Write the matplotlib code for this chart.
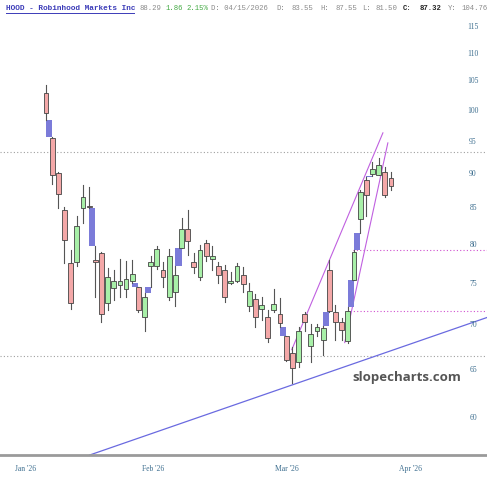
import numpy as np
import matplotlib
matplotlib.use("Agg")
import matplotlib.pyplot as plt
from matplotlib.patches import Rectangle
from matplotlib.lines import Line2D
import matplotlib.transforms as mtransforms

# ---- data (daily candles, HOOD, Jan-Apr 2026) ----
opens  = [103.0, 95.6, 90.1, 84.8, 77.6, 77.7, 85.0, 85.4, 78.0, 78.9,
          72.6, 74.5, 74.9, 74.4, 75.3, 74.6, 71.0, 77.2, 77.2, 76.7,
          73.4, 74.0, 79.6, 82.1, 77.8, 75.8, 80.3, 78.1, 77.3, 76.7,
          75.1, 75.3, 76.1, 72.3, 73.1, 71.9, 70.9, 71.8, 71.3, 68.7,
          66.8, 65.8, 71.3, 67.6, 69.3, 68.3, 76.7, 71.6, 70.4, 68.2,
          75.5, 83.5, 89.2, 90.0, 89.8, 90.3, 89.4]
highs  = [104.4, 95.8, 90.3, 85.2, 79.3, 84.0, 88.4, 88.1, 79.8, 79.0,
          77.0, 76.7, 78.1, 77.9, 78.0, 74.6, 73.9, 78.6, 79.8, 77.7,
          79.4, 77.3, 83.7, 84.8, 78.9, 80.0, 80.7, 79.9, 77.7, 77.4,
          76.5, 77.6, 77.1, 75.1, 73.7, 73.4, 71.8, 74.3, 73.2, 68.8,
          67.5, 69.8, 71.6, 70.1, 70.1, 69.9, 78.0, 72.4, 70.8, 72.1,
          79.3, 87.7, 89.5, 91.8, 92.5, 91.0, 90.3]
lows   = [98.5, 88.6, 85.1, 77.6, 71.9, 77.2, 83.0, 85.0, 73.3, 70.4,
          71.8, 73.0, 73.4, 73.4, 75.1, 71.5, 69.3, 74.6, 76.8, 74.6,
          73.0, 72.3, 79.6, 78.7, 76.4, 75.5, 77.9, 76.7, 75.1, 72.8,
          75.0, 75.2, 74.0, 71.7, 69.8, 70.6, 68.1, 71.6, 69.8, 65.9,
          63.6, 65.3, 69.3, 65.8, 68.8, 66.6, 71.5, 68.3, 68.3, 68.0,
          75.5, 81.6, 83.9, 89.7, 89.8, 86.6, 87.6]
closes = [99.7, 89.8, 87.1, 80.7, 72.6, 82.6, 86.7, 85.2, 77.8, 71.3,
          75.8, 75.4, 75.4, 75.6, 76.2, 71.8, 73.4, 77.8, 79.4, 75.8,
          78.5, 76.1, 82.1, 80.5, 77.1, 79.3, 78.6, 78.6, 76.1, 73.4,
          75.3, 77.2, 75.0, 74.1, 70.9, 72.4, 68.5, 72.5, 70.3, 66.1,
          65.2, 69.3, 70.4, 69.0, 69.8, 69.7, 71.7, 70.4, 69.4, 71.7,
          79.0, 87.4, 87.0, 90.8, 91.4, 86.9, 88.3]

month_labels = ["Jan '26", "Feb '26", "Mar '26", "Apr '26"]
month_pos = [-3.4, 17.4, 39.1, 59.1]
ytick_vals = [60, 65, 70, 75, 80, 85, 90, 95, 100, 105, 110, 115]

# trendlines (bar index, price)
support_line = [(7.1, 56.4), (71.6, 70.9)]
channel_upper = [(39.9, 67.2), (54.7, 96.4)]
channel_lower = [(48.5, 68.0), (55.5, 94.8)]
grey_levels = [93.4, 66.5]
magenta_levels = [(79.3, 49.8), (71.7, 49.4)]

# header pieces: (x pixel, text, kind)
header_title = 'HOOD - Robinhood Markets Inc'
header_parts = [(139, '88.29', 'n'), (165, '1.86', 'g'), (186, '2.15%', 'g'),
                (211, 'D: 04/15/2026', 'n'), (276, 'D:', 'n'), (292, '83.55', 'n'),
                (320, 'H:', 'n'), (335, '87.55', 'n'), (362, 'L:', 'n'),
                (376, '81.50', 'n'), (403, 'C:', 'b'), (420, '87.32', 'b'),
                (448, 'Y:', 'n'), (461, '104.76', 'n')]

# ---- figure ----
W, H = 487, 480
fig = plt.figure(figsize=(W / 100, H / 100), dpi=100)
ax_top, ax_bot = 18, 455
ax = fig.add_axes([0, 1 - ax_bot / H, 1, (ax_bot - ax_top) / H])
ax.set_yscale('log')
xmin, xmax = -7.47, 71.6
ax.set_xlim(xmin, xmax)
ax.set_ylim(56.4, 116.7)
for s in ['top', 'left', 'right']:
    ax.spines[s].set_visible(False)
ax.spines['bottom'].set_color('#9a9a9a')
ax.spines['bottom'].set_linewidth(2)
ax.set_yticks([])
ax.yaxis.set_minor_locator(matplotlib.ticker.NullLocator())

ax.set_xticks(month_pos)
ax.set_xticklabels(month_labels)
ax.tick_params(axis='x', length=0, pad=7, labelsize=5.5, labelcolor='#3d6e8f')
for lbl in ax.get_xticklabels():
    lbl.set_fontfamily('Liberation Serif')

trans = mtransforms.blended_transform_factory(ax.transAxes, ax.transData)
for v in ytick_vals:
    ax.text(473 / W, v, str(v), transform=trans, ha='center', va='center',
            fontsize=5.5, family='Liberation Serif', color='#3d6e8f')

# horizontal levels
for lv in grey_levels:
    ax.plot([xmin, xmax], [lv, lv], ls=(0, (1, 2)), color='#a0a0a0', lw=0.8, zorder=1)
for lv, x0 in magenta_levels:
    ax.plot([x0, xmax], [lv, lv], ls=(0, (1, 2)), color='#d050d0', lw=0.8, zorder=1)

# trendlines
def extend(p0, p1, x0, x1):
    (xa, ya), (xb, yb) = p0, p1
    la, lb = np.log(ya), np.log(yb)
    k = (lb - la) / (xb - xa)
    return [x0, x1], [np.exp(la + k * (x0 - xa)), np.exp(la + k * (x1 - xa))]

xs, ys = extend(*support_line, support_line[0][0], xmax)
ax.plot(xs, ys, color='#6a6ae0', lw=0.9, zorder=2)
xs, ys = extend(*channel_upper, channel_upper[0][0], channel_upper[1][0])
ax.plot(xs, ys, color='#c060e0', lw=0.8, zorder=2)
xs, ys = extend(*channel_lower, channel_lower[0][0], channel_lower[1][0])
ax.plot(xs, ys, color='#c060e0', lw=0.8, zorder=2)

# gaps
n = len(opens)
for i in range(1, n):
    if highs[i] < lows[i - 1]:
        ax.add_patch(Rectangle((i - 1, highs[i]), 1, lows[i - 1] - highs[i],
                               facecolor='#7b7bd9', edgecolor='none', zorder=3))
    elif lows[i] > highs[i - 1]:
        ax.add_patch(Rectangle((i - 1, highs[i - 1]), 1, lows[i] - highs[i - 1],
                               facecolor='#7b7bd9', edgecolor='none', zorder=3))

# candles
bw = 0.78
for i in range(n):
    o, h, l, c = opens[i], highs[i], lows[i], closes[i]
    col = '#a8f0a8' if c >= o else '#f4a8a8'
    ax.plot([i, i], [l, h], color='#555555', lw=0.8, zorder=4)
    lo, hi = min(o, c), max(o, c)
    ax.add_patch(Rectangle((i - bw / 2, lo), bw, hi - lo, facecolor=col,
                           edgecolor='#444444', lw=0.6, zorder=5))

# watermark
fig.text(352 / W, 1 - 378 / H, 'slopecharts.com', fontsize=9.5, fontweight='bold',
         family='Open Sans', color='#555555', ha='left', va='center')

# header
def ht(x, s, color='#8a8a8a', size=5.2, weight='normal'):
    return fig.text(x / W, 1 - 8 / H, s, fontsize=size, color=color, family='Liberation Mono',
                    fontweight=weight, ha='left', va='center')

ht(6, header_title, color='#3b3bb8', size=5.6, weight='bold')
fig.add_artist(Line2D([6 / W, 134 / W], [1 - 12.5 / H, 1 - 12.5 / H], color='#3b3bb8', lw=0.7))
kind_style = {'n': ('#8a8a8a', 'normal'), 'g': ('#44aa44', 'normal'), 'b': ('#222222', 'bold')}
for x, s, k in header_parts:
    colr, wt = kind_style[k]
    ht(x, s, color=colr, weight=wt)

fig.savefig('out.png', dpi=100)
